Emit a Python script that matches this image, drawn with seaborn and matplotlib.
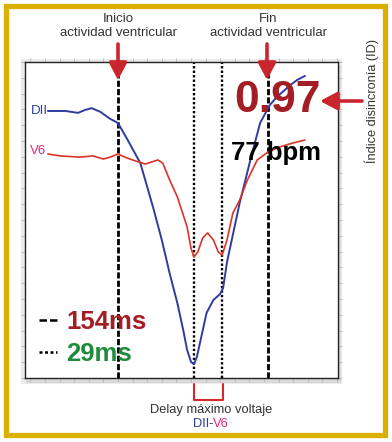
import matplotlib
matplotlib.use("Agg")
import matplotlib.pyplot as plt
import seaborn as sns
import pandas as pd
from matplotlib.lines import Line2D
from matplotlib.patches import Rectangle
from matplotlib.ticker import MultipleLocator, NullFormatter

# tiempo (ms, 0 = inicio actividad ventricular) y amplitud (unidades arbitrarias)
dii_ms = [-72, -54, -41, -34, -27, -18, -8, 0, 10, 23, 36, 45, 53, 61, 67, 71, 75, 78,
          81, 86, 91, 98, 105, 108, 112, 118, 125, 136, 146, 156, 163, 177, 184, 192]
dii_amp = [84.5, 84.5, 83.9, 84.8, 85.4, 84.2, 82.0, 80.7, 75.3, 68.0, 54.1, 43.7, 33.2,
           23.7, 15.2, 8.9, 5.1, 4.4, 6.6, 13.6, 20.6, 24.7, 26.6, 28.5, 36.7, 45.3, 55.4,
           69.0, 80.7, 86.4, 88.9, 92.7, 94.3, 95.6]

v6_ms = [-72, -60, -39, -26, -15, -8, 0, 7, 15, 28, 35, 41, 46, 53, 61, 71, 75, 78, 82,
         87, 92, 98, 103, 107, 112, 118, 125, 133, 143, 154, 166, 180, 192]
v6_amp = [70.9, 70.3, 69.9, 70.3, 69.3, 69.9, 70.9, 69.9, 69.0, 67.7, 68.4, 69.0, 68.0,
          62.7, 57.3, 47.8, 41.1, 38.3, 39.9, 44.3, 45.9, 43.7, 39.9, 38.9, 43.7, 52.2,
          56.3, 62.7, 69.0, 71.5, 73.1, 74.4, 75.3]

inicio_ms = 0
fin_ms = 154
pico_dii_ms = 78
pico_v6_ms = 107
indice_id = "0.97"
frecuencia = "77 bpm"
duracion_txt = "154ms"
delay_txt = "29ms"

AZUL = "#2F3C9E"
ROJO_LINEA = "#DD3328"
ROSA = "#E0287A"
ROJO_OSCURO = "#A31E24"
ROJO_FLECHA = "#C8262C"
VERDE = "#1F8B3B"
ORO = "#DCB000"
GRIS_TXT = "#333333"

W, H = 392, 442


def px(x, y):
    return x / W, 1 - y / H


sns.set_style("white")
plt.rcParams["font.family"] = ["Liberation Sans", "DejaVu Sans"]

fig = plt.figure(figsize=(W / 100, H / 100), dpi=100)
fig.patch.set_facecolor("white")

# marco amarillo
fig.add_artist(Rectangle(px(6, 434.5), 379 / W, 429 / H, transform=fig.transFigure,
                         fill=False, ec=ORO, lw=3.8))
# sombra del panel
fig.add_artist(Rectangle(px(21, 384), 321 / W, 325 / H, transform=fig.transFigure,
                         fc="#EBEBEB", ec="none", zorder=0))
fig.add_artist(Rectangle(px(26, 383), 315 / W, 318 / H, transform=fig.transFigure,
                         fc="#D8D8D8", ec="none", zorder=0))

ax = fig.add_axes([25 / W, 1 - 378 / H, 313 / W, 316 / H])
ax.set_facecolor("white")

df_dii = pd.DataFrame({"ms": dii_ms, "amp": dii_amp})
df_v6 = pd.DataFrame({"ms": v6_ms, "amp": v6_amp})
sns.lineplot(data=df_dii, x="ms", y="amp", ax=ax, color=AZUL, lw=1.4,
             sort=False, estimator=None, zorder=3)
sns.lineplot(data=df_v6, x="ms", y="amp", ax=ax, color=ROJO_LINEA, lw=1.2,
             sort=False, estimator=None, zorder=3)

ax.set_xlim(-95.5, 226)
ax.set_ylim(0, 100)
ax.set_xlabel("")
ax.set_ylabel("")

for t in (inicio_ms, fin_ms):
    ax.axvline(t, color="black", lw=2.0, ls=(0, (2.2, 0.8)), zorder=2)
for t in (pico_dii_ms, pico_v6_ms):
    ax.axvline(t, color="black", lw=1.7, ls=(0, (1.0, 0.9)), zorder=2)

for s in ax.spines.values():
    s.set_color("#222222")
    s.set_linewidth(1.0)
ax.xaxis.set_major_locator(MultipleLocator(15))
ax.yaxis.set_major_locator(MultipleLocator(5))
ax.xaxis.set_major_formatter(NullFormatter())
ax.yaxis.set_major_formatter(NullFormatter())
ax.tick_params(which="both", direction="out", length=3, width=0.6, color="#B8B8B8",
               bottom=True, top=True, left=True, right=True)

# etiquetas de derivaciones
ax.text(-89, dii_amp[0], "DII", color=AZUL, fontsize=9.5, ha="left", va="center")
ax.text(-90, v6_amp[0] + 1, "V6", color=ROSA, fontsize=9.5, ha="left", va="center")

# valores principales
fig.text(*px(277, 100), indice_id, color=ROJO_OSCURO, fontsize=32, fontweight="bold",
         ha="center", va="center", zorder=5)
fig.text(*px(276, 153), frecuencia, color="black", fontsize=18.5, fontweight="bold",
         ha="center", va="center", zorder=5)

leg = ax.legend(
    handles=[Line2D([], [], color="black", lw=1.8, ls=(0, (3.0, 1.2))),
             Line2D([], [], color="black", lw=1.8, ls=(0, (1.2, 1.0)))],
    labels=[duracion_txt, delay_txt],
    loc="upper left", bbox_to_anchor=(0.045, 0.215), frameon=False,
    prop={"weight": "bold", "size": 18.5}, labelcolor=[ROJO_OSCURO, VERDE],
    handlelength=0.7, handletextpad=0.35, labelspacing=0.3, borderpad=0,
    borderaxespad=0)

# textos superiores
for xc, txt in ((118, "Inicio\nactividad ventricular"), (268, "Fin\nactividad ventricular")):
    fig.text(*px(xc, 26), txt, color=GRIS_TXT, fontsize=9.5, ha="center", va="center",
             linespacing=1.3)

arrow_kw = dict(arrowstyle="-|>,head_width=0.45,head_length=0.85", color=ROJO_FLECHA,
                lw=2.6, shrinkA=0, shrinkB=0, mutation_scale=12)
for xc in (118, 267):
    ax.annotate("", xy=(xc, H - 80), xytext=(xc, H - 44), xycoords="figure pixels",
                textcoords="figure pixels", arrowprops=arrow_kw, annotation_clip=False)
ax.annotate("", xy=(320, H - 101), xytext=(362, H - 101), xycoords="figure pixels",
            textcoords="figure pixels", arrowprops=arrow_kw, annotation_clip=False)

fig.text(*px(372, 101), "Índice disincronía (ID)", color=GRIS_TXT, fontsize=9.2,
         rotation=90, ha="center", va="center")

# corchete delay
fig.add_artist(Line2D([194 / W, 194 / W, 223 / W, 223 / W],
                      [1 - 384 / H, 1 - 400 / H, 1 - 400 / H, 1 - 384 / H],
                      transform=fig.transFigure, color="#D42A2A", lw=1.5))
fig.text(*px(211, 410), "Delay máximo voltaje", color=GRIS_TXT, fontsize=9.3,
         ha="center", va="center")
fig.text(*px(209, 424), "DII", color=AZUL, fontsize=9.3, ha="right", va="center")
fig.text(*px(211, 424), "-", color=GRIS_TXT, fontsize=9.3, ha="center", va="center")
fig.text(*px(213, 424), "V6", color=ROSA, fontsize=9.3, ha="left", va="center")

fig.savefig("out.png", dpi=100)
